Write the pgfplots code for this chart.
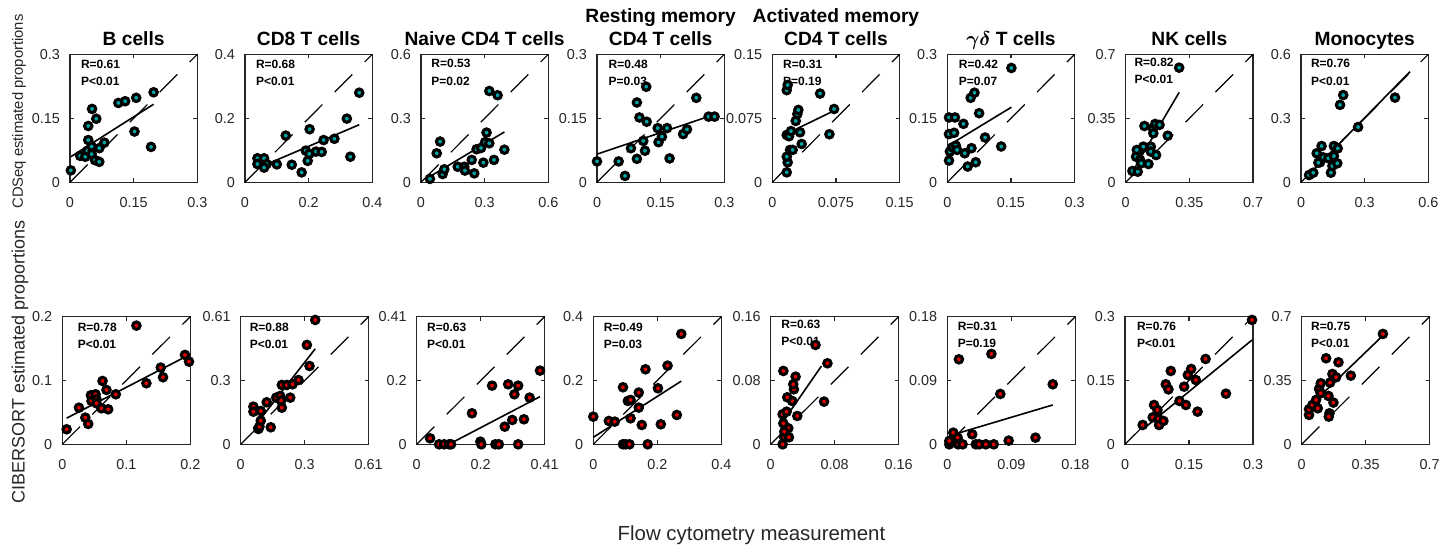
\documentclass[border=0pt]{standalone}
\usepackage{amsmath}
\usepackage{fontspec}
\setmainfont{Liberation Sans}
\usepackage{pgfplots}
\pgfplotsset{compat=1.18}
\definecolor{tealc}{RGB}{0,165,165}
\definecolor{redc}{RGB}{235,0,0}
\definecolor{axgray}{RGB}{38,38,38}
\newcommand{\titlefont}{\fontsize{9.6pt}{11.5pt}\selectfont\bfseries}
\newcommand{\rpfont}{\fontsize{6pt}{7.2pt}\selectfont\bfseries}
\pgfplotsset{
 panel/.style={scale only axis, anchor=south west, xmin=0, ymin=0, clip=false,
  axis line style={axgray, line width=0.7pt},
  tick style={axgray, line width=0.6pt},
  major tick length=2pt, tick align=inside,
  ticklabel style={font=\fontsize{7.2pt}{8.6pt}\selectfont, text=axgray},
  xticklabel style={yshift=-4.2pt},
  yticklabel style={xshift=-1.5pt}},
 toprow/.style={panel, width=63.65pt, height=64pt},
 botrow/.style={panel, width=64pt, height=63.85pt},
 sc/.style={only marks, black, mark=*, mark size=1.85pt, mark options={solid, fill=#1, line width=1.55pt}},
 fit/.style={black, line width=0.8pt, no marks, solid},
 idl/.style={black, line width=0.6pt, no marks, dash pattern=on 12.5pt off 8.7pt},
}
\newcommand{\ttl}[1]{\node[anchor=base, font=\titlefont, yshift=4.3pt] at (rel axis cs:0.5,1) {#1};}
\newcommand{\ttll}[2]{\node[anchor=base, font=\titlefont, yshift=15.8pt] at (rel axis cs:0.5,1) {#1};
 \node[anchor=base, font=\titlefont, yshift=4.3pt] at (rel axis cs:0.5,1) {#2};}
% #1 xshift, #2 yshift R, #3 yshift P, #4 R text, #5 P text
\newcommand{\rp}[5]{\node[anchor=base west, font=\rpfont, xshift=#1, yshift=#2] at (rel axis cs:0,1) {#4};
 \node[anchor=base west, font=\rpfont, xshift=#1, yshift=#3] at (rel axis cs:0,1) {#5};}
\begin{document}
\begin{tikzpicture}
\path[use as bounding box] (0,0) rectangle (726pt,-274pt);
%================ TOP ROW =================
\begin{axis}[toprow, at={(35pt,-91.15pt)}, xmax=0.3, ymax=0.3,
 xtick={0,0.15,0.3}, ytick={0,0.15,0.3}, xticklabels={0,0.15,0.3}, yticklabels={0,0.15,0.3}]
\addplot[idl] coordinates {(0,0) (0.3,0.3)};
\addplot[sc=tealc] coordinates {(0.002,0.028) (0.024,0.062) (0.036,0.060) (0.041,0.074) (0.043,0.132) (0.052,0.172) (0.062,0.149) (0.043,0.099) (0.051,0.084) (0.051,0.066) (0.059,0.052) (0.069,0.048) (0.069,0.080) (0.081,0.093) (0.114,0.186) (0.130,0.190) (0.156,0.198) (0.152,0.119) (0.197,0.211) (0.191,0.083)};
\addplot[fit] coordinates {(0.002,0.060) (0.197,0.183)};
\ttl{B cells}
\rp{2pt}{-6.85pt}{-15.5pt}{R=0.61}{P<0.01}
\end{axis}
\begin{axis}[toprow, at={(122.5pt,-91.15pt)}, xmax=0.4, ymax=0.4,
 xtick={0,0.2,0.4}, ytick={0,0.2,0.4}, xticklabels={0,0.2,0.4}, yticklabels={0,0.2,0.4}]
\addplot[idl] coordinates {(0,0) (0.4,0.4)};
\addplot[sc=tealc] coordinates {(0.039,0.075) (0.039,0.057) (0.060,0.075) (0.068,0.057) (0.060,0.046) (0.100,0.056) (0.128,0.146) (0.147,0.055) (0.178,0.031) (0.191,0.099) (0.197,0.067) (0.202,0.089) (0.203,0.166) (0.223,0.096) (0.241,0.095) (0.247,0.132) (0.281,0.136) (0.320,0.199) (0.331,0.080) (0.359,0.280)};
\addplot[fit] coordinates {(0.039,0.044) (0.359,0.180)};
\ttl{CD8 T cells}
\rp{2pt}{-6.85pt}{-15.5pt}{R=0.68}{P<0.01}
\end{axis}
\begin{axis}[toprow, at={(210.5pt,-91.15pt)}, xmax=0.6, ymax=0.6,
 xtick={0,0.3,0.6}, ytick={0,0.3,0.6}, xticklabels={0,0.3,0.6}, yticklabels={0,0.3,0.6}]
\addplot[idl] coordinates {(0,0) (0.6,0.6)};
\addplot[sc=tealc] coordinates {(0.042,0.016) (0.074,0.136) (0.090,0.191) (0.102,0.039) (0.110,0.061) (0.173,0.073) (0.204,0.073) (0.207,0.055) (0.239,0.105) (0.251,0.042) (0.262,0.155) (0.283,0.161) (0.294,0.092) (0.302,0.188) (0.309,0.233) (0.322,0.183) (0.322,0.428) (0.361,0.408) (0.344,0.105) (0.393,0.153)};
\addplot[fit] coordinates {(0.042,0.027) (0.393,0.236)};
\ttl{Naive CD4 T cells}
\rp{1.7pt}{-6.85pt}{-15.5pt}{R=0.53}{P=0.02}
\end{axis}
\begin{axis}[toprow, at={(298.5pt,-91.15pt)}, xmax=0.3, ymax=0.3,
 xtick={0,0.15,0.3}, ytick={0,0.15,0.3}, xticklabels={0,0.15,0.3}, yticklabels={0,0.15,0.3}]
\addplot[idl] coordinates {(0,0) (0.3,0.3)};
\addplot[sc=tealc] coordinates {(0.0,0.049) (0.051,0.049) (0.066,0.015) (0.080,0.080) (0.094,0.055) (0.094,0.187) (0.100,0.152) (0.109,0.097) (0.113,0.074) (0.116,0.224) (0.117,0.142) (0.143,0.127) (0.145,0.094) (0.153,0.107) (0.165,0.127) (0.171,0.056) (0.203,0.113) (0.212,0.124) (0.234,0.198) (0.263,0.154) (0.277,0.154)};
\addplot[fit] coordinates {(0,0.066) (0.277,0.159)};
\ttll{Resting memory}{CD4 T cells}
\rp{2.3pt}{-6.85pt}{-15.5pt}{R=0.48}{P=0.03}
\end{axis}
\begin{axis}[toprow, at={(386.15pt,-91.15pt)}, xmax=0.15, ymax=0.15,
 xtick={0,0.075,0.15}, ytick={0,0.075,0.15}, xticklabels={0,0.075,0.15}, yticklabels={0,0.075,0.15}]
\addplot[idl] coordinates {(0,0) (0.15,0.15)};
\addplot[sc=tealc] coordinates {(0.017,0.0117) (0.0181,0.0234) (0.017,0.030) (0.0209,0.0379) (0.024,0.038) (0.017,0.0555) (0.0197,0.054) (0.022,0.060) (0.0327,0.0586) (0.0346,0.0449) (0.0276,0.0719) (0.0295,0.080) (0.0307,0.0848) (0.017,0.108) (0.0181,0.114) (0.0563,0.104) (0.0673,0.0563) (0.0728,0.0859)};
\addplot[fit] coordinates {(0.017,0.057) (0.073,0.084)};
\ttll{Activated memory}{CD4 T cells}
\rp{1.9pt}{-6.85pt}{-15.5pt}{R=0.31}{P=0.19}
\end{axis}
\begin{axis}[toprow, at={(473.65pt,-91.15pt)}, xmax=0.3, ymax=0.3,
 xtick={0,0.15,0.3}, ytick={0,0.15,0.3}, xticklabels={0,0.15,0.3}, yticklabels={0,0.15,0.3}]
\addplot[idl] coordinates {(0,0) (0.3,0.3)};
\addplot[sc=tealc] coordinates {(0.004,0.152) (0.018,0.152) (0.004,0.113) (0.016,0.116) (0.004,0.051) (0.006,0.072) (0.012,0.082) (0.020,0.086) (0.023,0.076) (0.038,0.137) (0.041,0.068) (0.048,0.037) (0.057,0.080) (0.055,0.198) (0.064,0.210) (0.067,0.047) (0.075,0.162) (0.089,0.105) (0.127,0.084) (0.151,0.268)};
\addplot[fit] coordinates {(0.004,0.087) (0.151,0.176)};
\ttl{$\boldsymbol{\gamma\delta}$ T cells}
\rp{2.3pt}{-6.85pt}{-15.5pt}{R=0.42}{P=0.07}
\end{axis}
\begin{axis}[toprow, at={(562.85pt,-91.15pt)}, xmax=0.7, ymax=0.7,
 xtick={0,0.35,0.7}, ytick={0,0.35,0.7}, xticklabels={0,0.35,0.7}, yticklabels={0,0.35,0.7}]
\addplot[idl] coordinates {(0,0) (0.7,0.7)};
\addplot[sc=tealc] coordinates {(0.037,0.062) (0.066,0.058) (0.057,0.140) (0.073,0.173) (0.079,0.122) (0.085,0.104) (0.097,0.195) (0.103,0.308) (0.125,0.100) (0.138,0.195) (0.138,0.168) (0.149,0.295) (0.152,0.268) (0.162,0.319) (0.167,0.149) (0.186,0.314) (0.231,0.255) (0.294,0.627) (0.061,0.177)};
\addplot[fit] coordinates {(0.037,0.058) (0.294,0.492)};
\ttl{NK cells}
\rp{0.9pt}{-6.2pt}{-14.8pt}{R=0.82}{P<0.01}
\end{axis}
\begin{axis}[toprow, at={(650.5pt,-91.15pt)}, xmax=0.6, ymax=0.6,
 xtick={0,0.3,0.6}, ytick={0,0.3,0.6}, xticklabels={0,0.3,0.6}, yticklabels={0,0.3,0.6}]
\addplot[idl] coordinates {(0,0) (0.6,0.6)};
\addplot[sc=tealc] coordinates {(0.038,0.034) (0.058,0.045) (0.074,0.136) (0.090,0.094) (0.097,0.170) (0.105,0.117) (0.129,0.113) (0.141,0.045) (0.148,0.077) (0.155,0.123) (0.155,0.170) (0.171,0.089) (0.173,0.159) (0.184,0.363) (0.199,0.409) (0.269,0.259) (0.443,0.397) (0.082,0.092)};
\addplot[fit] coordinates {(0.035,0.034) (0.514,0.519)};
\ttl{Monocytes}
\rp{1.5pt}{-6.85pt}{-15.5pt}{R=0.76}{P<0.01}
\end{axis}
%================ BOTTOM ROW =================
\begin{axis}[botrow, at={(31.15pt,-222.15pt)}, xmax=0.2, ymax=0.2,
 xtick={0,0.1,0.2}, ytick={0,0.1,0.2}, xticklabels={0,0.1,0.2}, yticklabels={0,0.1,0.2}]
\addplot[idl] coordinates {(0,0) (0.2,0.2)};
\addplot[sc=redc] coordinates {(0.0068,0.0235) (0.026,0.0574) (0.036,0.0418) (0.0405,0.0319) (0.0447,0.0768) (0.0457,0.0679) (0.052,0.0783) (0.0535,0.0705) (0.0535,0.0642) (0.0613,0.0564) (0.0629,0.0992) (0.069,0.0851) (0.0717,0.0548) (0.0836,0.0783) (0.1158,0.1859) (0.1314,0.0956) (0.1538,0.1201) (0.1574,0.105) (0.1917,0.14) (0.198,0.1295)};
\addplot[fit] coordinates {(0.0068,0.041) (0.198,0.140)};
\rp{4.2pt}{-7.65pt}{-16pt}{R=0.78}{P<0.01}
\end{axis}
\begin{axis}[botrow, at={(120.35pt,-222.15pt)}, xmax=0.61, ymax=0.61,
 xtick={0,0.305,0.61}, ytick={0,0.305,0.61}, xticklabels={0,0.3,0.61}, yticklabels={0,0.3,0.61}]
\addplot[idl] coordinates {(0,0) (0.61,0.61)};
\addplot[sc=redc] coordinates {(0.0605,0.180) (0.0605,0.156) (0.0844,0.0733) (0.0892,0.0844) (0.0956,0.113) (0.0956,0.159) (0.124,0.2007) (0.1433,0.0812) (0.169,0.223) (0.188,0.231) (0.193,0.2086) (0.196,0.175) (0.196,0.2835) (0.220,0.2835) (0.236,0.223) (0.247,0.2867) (0.2755,0.307) (0.3154,0.4746) (0.328,0.374) (0.3552,0.594)};
\addplot[fit] coordinates {(0.0605,0.078) (0.355,0.456)};
\rp{1pt}{-7.65pt}{-16pt}{R=0.88}{P<0.01}
\end{axis}
\begin{axis}[botrow, at={(208.35pt,-222.15pt)}, xmax=0.41, ymax=0.41,
 xtick={0,0.205,0.41}, ytick={0,0.205,0.41}, xticklabels={0,0.2,0.41}, yticklabels={0,0.2,0.41}]
\addplot[idl] coordinates {(0,0) (0.41,0.41)};
\addplot[sc=redc] coordinates {(0.0429,0.0193) (0.0719,0) (0.088,0) (0.104,0) (0.110,0) (0.177,0.0996) (0.204,0.0086) (0.207,0) (0.2415,0.1884) (0.252,0) (0.263,0) (0.282,0.0567) (0.293,0.1927) (0.306,0.0781) (0.313,0.1606) (0.325,0.1884) (0.325,0) (0.3435,0.0803) (0.3617,0.1499) (0.395,0.2366)};
\addplot[fit] coordinates {(0.103,0) (0.395,0.153)};
\rp{1.7pt}{-7.65pt}{-16pt}{R=0.63}{P<0.01}
\end{axis}
\begin{axis}[botrow, at={(296.65pt,-222.15pt)}, xmax=0.4, ymax=0.4,
 xtick={0,0.2,0.4}, ytick={0,0.2,0.4}, xticklabels={0,0.2,0.4}, yticklabels={0,0.2,0.4}]
\addplot[idl] coordinates {(0,0) (0.4,0.4)};
\addplot[sc=redc] coordinates {(0,0.0867) (0.0485,0.0731) (0.067,0.071) (0.0928,0.1786) (0.0928,0) (0.101,0) (0.108,0.1358) (0.1165,0.139) (0.1165,0.0815) (0.113,0) (0.142,0.162) (0.142,0.1149) (0.1515,0.0606) (0.163,0.235) (0.170,0) (0.202,0.1755) (0.211,0.0627) (0.232,0.2465) (0.261,0.0919) (0.275,0.3457)};
\addplot[fit] coordinates {(0,0.022) (0.275,0.198)};
\rp{1.7pt}{-7.65pt}{-16pt}{R=0.49}{P=0.03}
\end{axis}
\begin{axis}[botrow, at={(385.35pt,-222.15pt)}, xmax=0.16, ymax=0.16,
 xtick={0,0.08,0.16}, ytick={0,0.08,0.16}, xticklabels={0,0.08,0.16}, yticklabels={0,0.08,0.16}]
\addplot[idl] coordinates {(0,0) (0.16,0.16)};
\addplot[sc=redc] coordinates {(0.0149,0) (0.0166,0.0096) (0.0228,0.0088) (0.0220,0.0201) (0.0158,0.0263) (0.017,0.0159) (0.0149,0.0376) (0.0199,0.0409) (0.0269,0.0543) (0.0207,0.0589) (0.0332,0.0355) (0.029,0.0689) (0.0282,0.0752) (0.0311,0.0848) (0.0158,0.0919) (0.056,0.1245) (0.0667,0.0535) (0.0709,0.1015)};
\addplot[fit] coordinates {(0.0158,0.029) (0.0634,0.098)};
\rp{1.8pt}{-6pt}{-14.4pt}{R=0.63}{P<0.01}
\end{axis}
\begin{axis}[botrow, at={(473.65pt,-222.15pt)}, xmax=0.18, ymax=0.18,
 xtick={0,0.09,0.18}, ytick={0,0.09,0.18}, xticklabels={0,0.09,0.18}, yticklabels={0,0.09,0.18}]
\addplot[idl] coordinates {(0,0) (0.18,0.18)};
\addplot[sc=redc] coordinates {(0.0028,0) (0.0028,0.0047) (0.0084,0.0164) (0.0145,0.0094) (0.0154,0) (0.0215,0) (0.0163,0.1198) (0.035,0.0141) (0.0401,0) (0.0448,0) (0.0541,0) (0.0653,0) (0.062,0.1274) (0.0746,0.071) (0.0863,0.0052) (0.124,0.0094) (0.1483,0.0846)};
\addplot[fit] coordinates {(0.0028,0.012) (0.1483,0.0555)};
\rp{1.7pt}{-6.8pt}{-15.2pt}{R=0.31}{P=0.19}
\end{axis}
\begin{axis}[botrow, at={(562.5pt,-222.15pt)}, xmax=0.3, ymax=0.3,
 xtick={0,0.15,0.3}, ytick={0,0.15,0.3}, xticklabels={0,0.15,0.3}, yticklabels={0,0.15,0.3}]
\addplot[idl] coordinates {(0,0) (0.3,0.3)};
\addplot[sc=redc] coordinates {(0.0415,0.0454) (0.065,0.0634) (0.0681,0.0924) (0.076,0.0807) (0.0783,0.0595) (0.0799,0.0454) (0.090,0.0548) (0.0956,0.141) (0.1018,0.129) (0.1073,0.1723) (0.1277,0.1018) (0.1386,0.1355) (0.1426,0.0924) (0.1473,0.1629) (0.155,0.177) (0.166,0.151) (0.170,0.0768) (0.1888,0.2005) (0.2366,0.119) (0.2977,0.2922)};
\addplot[fit] coordinates {(0.0415,0.035) (0.2977,0.245)};
\rp{2.5pt}{-6.8pt}{-15.2pt}{R=0.76}{P<0.01}
\end{axis}
\begin{axis}[botrow, at={(650.85pt,-222.15pt)}, xmax=0.7, ymax=0.7,
 xtick={0,0.35,0.7}, ytick={0,0.35,0.7}, xticklabels={0,0.35,0.7}, yticklabels={0,0.35,0.7}]
\addplot[idl] coordinates {(0,0) (0.7,0.7)};
\addplot[sc=redc] coordinates {(0.040,0.161) (0.040,0.192) (0.0585,0.2157) (0.0786,0.2431) (0.0877,0.1974) (0.095,0.3034) (0.1042,0.3345) (0.1042,0.2796) (0.1334,0.4715) (0.1462,0.265) (0.1517,0.170) (0.148,0.1517) (0.1553,0.3381) (0.168,0.3856) (0.1736,0.2285) (0.188,0.3674) (0.201,0.4496) (0.2687,0.3765) (0.444,0.605)};
\addplot[fit] coordinates {(0.040,0.2065) (0.444,0.596)};
\rp{1.2pt}{-6.8pt}{-15.2pt}{R=0.75}{P<0.01}
\end{axis}
%================ GLOBAL LABELS =================
\node[rotate=90, font=\fontsize{7.4pt}{9pt}\selectfont, text=axgray] at (9.5pt,-55.75pt) {CDSeq estimated proportions};
\node[rotate=90, font=\fontsize{9pt}{11pt}\selectfont, text=axgray] at (10pt,-181pt) {CIBERSORT estimated proportions};
\node[anchor=base, font=\fontsize{10.2pt}{12pt}\selectfont, text=axgray] at (375.75pt,-270pt) {Flow cytometry measurement};
\end{tikzpicture}
\end{document}
